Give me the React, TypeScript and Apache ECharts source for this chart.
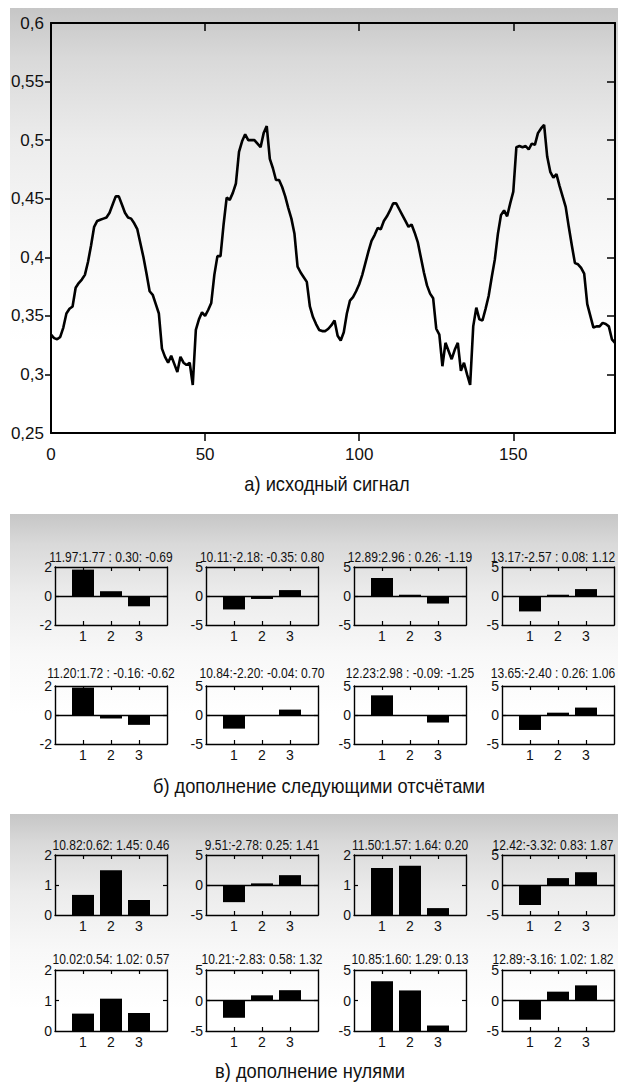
import React, { useEffect, useRef } from "react";
import * as echarts from "echarts";

const FONT = "'Liberation Sans', Arial, sans-serif";

// a) source signal, sample index 0..183
const signal = [
  0.334, 0.331, 0.33, 0.332, 0.34, 0.352, 0.356, 0.358, 0.374, 0.378,
  0.381, 0.385, 0.396, 0.41, 0.426, 0.431, 0.432, 0.433, 0.434, 0.438,
  0.445, 0.452, 0.452, 0.445, 0.438, 0.434, 0.433, 0.429, 0.424, 0.412,
  0.4, 0.386, 0.371, 0.368, 0.36, 0.352, 0.322, 0.315, 0.31, 0.316,
  0.309, 0.302, 0.315, 0.31, 0.308, 0.31, 0.291, 0.338, 0.347, 0.353,
  0.35, 0.355, 0.361, 0.385, 0.401, 0.401, 0.428, 0.451, 0.449, 0.455,
  0.463, 0.49, 0.499, 0.505, 0.5, 0.5, 0.5, 0.497, 0.494, 0.506,
  0.512, 0.484, 0.476, 0.466, 0.466, 0.46, 0.452, 0.442, 0.433, 0.42,
  0.392, 0.387, 0.383, 0.379, 0.358, 0.349, 0.343, 0.338, 0.337, 0.337,
  0.339, 0.342, 0.346, 0.333, 0.329, 0.336, 0.352, 0.363, 0.366, 0.371,
  0.377, 0.385, 0.395, 0.405, 0.414, 0.419, 0.425, 0.424, 0.431, 0.435,
  0.44, 0.446, 0.446, 0.441, 0.436, 0.431, 0.426, 0.428, 0.421, 0.413,
  0.4, 0.387, 0.376, 0.369, 0.365, 0.339, 0.334, 0.307, 0.327, 0.32,
  0.313, 0.321, 0.327, 0.303, 0.31, 0.3, 0.291, 0.341, 0.357, 0.347,
  0.346, 0.356, 0.367, 0.383, 0.398, 0.42, 0.436, 0.44, 0.435, 0.446,
  0.456, 0.494, 0.495, 0.494, 0.495, 0.492, 0.497, 0.496, 0.506, 0.51,
  0.513, 0.486, 0.473, 0.468, 0.471, 0.461, 0.452, 0.443, 0.426, 0.41,
  0.395, 0.394, 0.391, 0.386, 0.36, 0.35, 0.34, 0.341, 0.341, 0.344,
  0.343, 0.341, 0.33, 0.327,
];
const signalXMax = 183;
const signalXTicks = [0, 50, 100, 150];
const signalYTicks = [0.25, 0.3, 0.35, 0.4, 0.45, 0.5, 0.55, 0.6];

const barPositions = [1, 2, 3];

// b) padding with the following samples
const panelBTitles = [
  "11.97:1.77 : 0.30: -0.69",
  "10.11:-2.18: -0.35: 0.80",
  "12.89:2.96 : 0.26: -1.19",
  "13.17:-2.57 : 0.08: 1.12",
  "11.20:1.72 : -0.16: -0.62",
  "10.84:-2.20: -0.04: 0.70",
  "12.23:2.98 : -0.09: -1.25",
  "13.65:-2.40 : 0.26: 1.06",
];
const panelBYTicks = [
  [-2, 0, 2], [-5, 0, 5], [-5, 0, 5], [-5, 0, 5],
  [-2, 0, 2], [-5, 0, 5], [-5, 0, 5], [-5, 0, 5],
];
const panelBBars = [
  [1.82, 0.33, -0.71],
  [-2.32, -0.51, 1.02],
  [3.1, 0.22, -1.3],
  [-2.66, 0.22, 1.19],
  [1.89, -0.24, -0.68],
  [-2.35, -0.04, 0.93],
  [3.39, -0.09, -1.3],
  [-2.58, 0.4, 1.28],
];

// c) zero padding
const panelCTitles = [
  "10.82:0.62: 1.45: 0.46",
  "9.51:-2.78: 0.25: 1.41",
  "11.50:1.57: 1.64: 0.20",
  "12.42:-3.32: 0.83: 1.87",
  "10.02:0.54: 1.02: 0.57",
  "10.21:-2.83: 0.58: 1.32",
  "10.85:1.60: 1.29: 0.13",
  "12.89:-3.16: 1.02: 1.82",
];
const panelCYTicks = [
  [0, 1, 2], [-5, 0, 5], [0, 1, 2], [-5, 0, 5],
  [0, 1, 2], [-5, 0, 5], [-5, 0, 5], [-5, 0, 5],
];
// bars of the 7th chart are drawn on a 0..2 scale behind -5..5 labels
const panelCBarScale = [null, null, null, null, null, null, [0, 2], null];
const panelCBars = [
  [0.67, 1.49, 0.5],
  [-2.86, 0.27, 1.64],
  [1.57, 1.64, 0.23],
  [-3.33, 1.15, 2.13],
  [0.57, 1.06, 0.59],
  [-2.83, 0.85, 1.69],
  [1.63, 1.33, 0.18],
  [-3.15, 1.45, 2.48],
];

const captions = [
  "а) исходный сигнал",
  "б) дополнение следующими отсчётами",
  "в) дополнение нулями",
];

function fmtComma(v: number) {
  return String(Number(v.toFixed(3))).replace(".", ",");
}

function buildOption() {
  const grid: any[] = [];
  const xAxis: any[] = [];
  const yAxis: any[] = [];
  const series: any[] = [];
  const graphic: any[] = [];

  const black = "#000";

  // ---------- backgrounds ----------
  const bg = (y: number, h: number) => ({
    type: "rect",
    z: -100,
    silent: true,
    shape: { x: 10, y, width: 608, height: h },
    style: {
      fill: new echarts.graphic.LinearGradient(0, 0, 0, 1, [
        { offset: 0, color: "#c6c6c6" },
        { offset: 0.15, color: "#d9d9d9" },
        { offset: 0.4, color: "#ececec" },
        { offset: 0.7, color: "#f8f8f8" },
        { offset: 1, color: "#ffffff" },
      ]),
    },
  });
  graphic.push(bg(8, 335), bg(514, 200), bg(814, 195));

  // ---------- main chart ----------
  grid.push({ left: 51, top: 23, width: 564, height: 410 });
  const mainAxisLine = { show: true, onZero: false, lineStyle: { color: black, width: 2 } };
  xAxis.push({
    gridIndex: 0,
    type: "value",
    position: "bottom",
    min: 0,
    max: signalXMax,
    interval: 50,
    axisLine: mainAxisLine,
    axisTick: { show: true, inside: false, length: 8, customValues: signalXTicks.slice(1), lineStyle: { color: black, width: 1.5 } },
    axisLabel: { show: true, customValues: signalXTicks, margin: 13, color: "#111", fontSize: 17, fontFamily: FONT },
    splitLine: { show: false },
  });
  xAxis.push({
    gridIndex: 0,
    type: "value",
    position: "top",
    min: 0,
    max: signalXMax,
    interval: 50,
    axisLine: mainAxisLine,
    axisTick: { show: true, inside: true, length: 8, customValues: signalXTicks.slice(1), lineStyle: { color: black, width: 1.5 } },
    axisLabel: { show: false },
    splitLine: { show: false },
  });
  yAxis.push({
    gridIndex: 0,
    type: "value",
    position: "left",
    min: 0.25,
    max: 0.6,
    interval: 0.05,
    axisLine: mainAxisLine,
    axisTick: { show: true, inside: false, length: 6, customValues: signalYTicks.slice(1, -1), lineStyle: { color: black, width: 1.5 } },
    axisLabel: {
      show: true,
      customValues: signalYTicks,
      margin: 7,
      color: "#111",
      fontSize: 17,
      fontFamily: FONT,
      formatter: (v: number) => fmtComma(v),
    },
    splitLine: { show: false },
  });
  yAxis.push({
    gridIndex: 0,
    type: "value",
    position: "right",
    min: 0.25,
    max: 0.6,
    interval: 0.05,
    axisLine: mainAxisLine,
    axisTick: { show: true, inside: true, length: 8, customValues: signalYTicks.slice(1, -1), lineStyle: { color: black, width: 1.5 } },
    axisLabel: { show: false },
    splitLine: { show: false },
  });
  series.push({
    type: "line",
    xAxisIndex: 0,
    yAxisIndex: 0,
    data: signal.map((v, i) => [i, v]),
    showSymbol: false,
    symbol: "none",
    lineStyle: { color: black, width: 2.6 },
    silent: true,
  });

  // ---------- small bar charts ----------
  const boxLefts = [55, 206, 354, 502];
  const titleXs = [111, 262, 410, 553];
  const boxW = 112;
  const rowsB = [
    { top: 567, h: 58, titleY: 557 },
    { top: 686, h: 58, titleY: 673 },
  ];
  const rowsC = [
    { top: 855, h: 60, titleY: 845 },
    { top: 970, h: 61, titleY: 959 },
  ];
  const smallLine = { show: true, onZero: false, lineStyle: { color: black, width: 1.4 } };
  const tickStyle = { color: black, width: 1.2 };

  const addSmall = (
    col: number,
    top: number,
    h: number,
    ticks: number[],
    bars: number[],
    barScale: number[] | null,
    title: string,
    titleY: number
  ) => {
    const left = boxLefts[col];
    const gi = grid.length;
    grid.push({ left, top, width: boxW, height: h });
    const xb = xAxis.length;
    xAxis.push({
      gridIndex: gi,
      type: "value",
      position: "bottom",
      min: 0,
      max: 4,
      interval: 1,
      axisLine: smallLine,
      axisTick: { show: true, inside: true, length: 4, customValues: barPositions, lineStyle: tickStyle },
      axisLabel: { show: true, customValues: barPositions, margin: 4, color: "#111", fontSize: 14, fontFamily: FONT },
      splitLine: { show: false },
    });
    xAxis.push({
      gridIndex: gi,
      type: "value",
      position: "top",
      min: 0,
      max: 4,
      interval: 1,
      axisLine: smallLine,
      axisTick: { show: true, inside: true, length: 4, customValues: barPositions, lineStyle: tickStyle },
      axisLabel: { show: false },
      splitLine: { show: false },
    });
    const lo = ticks[0];
    const hi = ticks[ticks.length - 1];
    const yl = yAxis.length;
    yAxis.push({
      gridIndex: gi,
      type: "value",
      position: "left",
      min: lo,
      max: hi,
      interval: (hi - lo) / (ticks.length - 1),
      axisLine: smallLine,
      axisTick: { show: true, inside: true, length: 4, customValues: ticks.slice(1, -1), lineStyle: tickStyle },
      axisLabel: { show: true, customValues: ticks, margin: 3, color: "#111", fontSize: 14, fontFamily: FONT },
      splitLine: { show: false },
    });
    yAxis.push({
      gridIndex: gi,
      type: "value",
      position: "right",
      min: lo,
      max: hi,
      interval: (hi - lo) / (ticks.length - 1),
      axisLine: smallLine,
      axisTick: { show: true, inside: true, length: 4, customValues: ticks.slice(1, -1), lineStyle: tickStyle },
      axisLabel: { show: false },
      splitLine: { show: false },
    });
    let barY = yl;
    if (barScale) {
      barY = yAxis.length;
      yAxis.push({ gridIndex: gi, type: "value", min: barScale[0], max: barScale[1], show: false, splitLine: { show: false } });
    }
    const s: any = {
      type: "bar",
      xAxisIndex: xb,
      yAxisIndex: barY,
      data: barPositions.map((p, j) => [p, bars[j]]),
      barWidth: Math.round((boxW / 4) * 0.8),
      itemStyle: { color: black },
      silent: true,
    };
    if (!barScale && lo < 0) {
      s.markLine = {
        silent: true,
        symbol: ["none", "none"],
        label: { show: false },
        lineStyle: { color: black, width: 1.4, type: "solid" },
        data: [{ yAxis: 0 }],
      };
    }
    series.push(s);
    graphic.push({
      type: "text",
      x: titleXs[col],
      y: titleY,
      scaleX: 0.86,
      silent: true,
      style: {
        text: title,
        fill: "#111",
        fontSize: 14,
        fontFamily: FONT,
        textAlign: "center",
        textVerticalAlign: "middle",
        align: "center",
        verticalAlign: "middle",
      },
    });
  };

  for (let k = 0; k < 8; k++) {
    const r = rowsB[Math.floor(k / 4)];
    addSmall(k % 4, r.top, r.h, panelBYTicks[k], panelBBars[k], null, panelBTitles[k], r.titleY);
  }
  for (let k = 0; k < 8; k++) {
    const r = rowsC[Math.floor(k / 4)];
    addSmall(k % 4, r.top, r.h, panelCYTicks[k], panelCBars[k], panelCBarScale[k], panelCTitles[k], r.titleY);
  }

  // ---------- captions ----------
  const capPos = [
    [327, 484],
    [319, 786],
    [310, 1071],
  ];
  captions.forEach((c, i) => {
    graphic.push({
      type: "text",
      x: capPos[i][0],
      y: capPos[i][1],
      scaleX: 0.87,
      silent: true,
      style: {
        text: c,
        fill: "#111",
        fontSize: 21,
        fontFamily: FONT,
        textAlign: "center",
        textVerticalAlign: "middle",
        align: "center",
        verticalAlign: "middle",
      },
    });
  });

  return {
    animation: false,
    backgroundColor: "#ffffff",
    grid,
    xAxis,
    yAxis,
    series,
    graphic,
  };
}

export default function App() {
  const ref = useRef<HTMLDivElement>(null);
  useEffect(() => {
    if (!ref.current) return;
    const chart = echarts.init(ref.current, null, { renderer: "svg", width: 618, height: 1084 });
    chart.setOption(buildOption() as any);
    return () => {
      chart.dispose();
    };
  }, []);
  return (
    <div
      ref={ref}
      style={{ position: "absolute", left: 0, top: 0, width: 618, height: 1084 }}
    />
  );
}
